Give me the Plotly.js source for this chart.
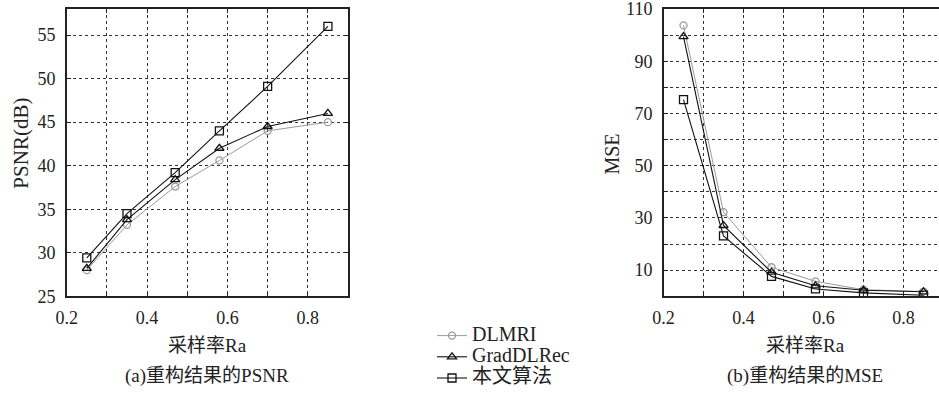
<!DOCTYPE html>
<html><head><meta charset="utf-8">
<script src="https://cdn.plot.ly/plotly-3.0.1.min.js"></script>
<style>html,body{margin:0;padding:0;overflow:hidden;background:#fff}</style>
</head><body><div id="chart"></div>
<script>
const rates = [0.25, 0.35, 0.47, 0.58, 0.70, 0.85];
const seriesNames = ['DLMRI', 'GradDLRec', '本文算法'];
const psnrDLMRI = [28.0, 33.2, 37.6, 40.6, 44.0, 45.0];
const psnrGrad  = [28.2, 33.8, 38.4, 42.0, 44.5, 46.0];
const psnrOurs  = [29.4, 34.5, 39.2, 44.0, 49.1, 56.0];
const mseDLMRI = [103.7, 32.2, 11.1, 5.7, 2.5, 1.8];
const mseGrad  = [99.4, 27.1, 9.2, 4.0, 2.3, 1.7];
const mseOurs  = [75.3, 23.1, 7.6, 2.8, 1.3, 0.4];
const xTickVals = [0.2, 0.3, 0.4, 0.5, 0.6, 0.7, 0.8, 0.9];
const xTickText = ['0.2', '', '0.4', '', '0.6', '', '0.8', ''];
const psnrTickVals = [25, 30, 35, 40, 45, 50, 55];
const mseTickVals = [0, 10, 20, 30, 40, 50, 60, 70, 80, 90, 100, 110];
const mseTickText = ['', '10', '', '30', '', '50', '', '70', '', '90', '', '110'];
const xTitle = '采样率Ra';
const captionA = '(a)重构结果的PSNR';
const captionB = '(b)重构结果的MSE';

const W = 945, H = 394;
const FONT = '"Liberation Serif", "Noto Sans CJK SC", serif';
const styles = [
  {color: '#9a9a9a', symbol: 'circle-open', size: 7, width: 1},
  {color: '#111', symbol: 'triangle-up-open', size: 8, width: 1.1},
  {color: '#111', symbol: 'square-open', size: 8, width: 1.1}
];
function tr(x, y, i, xa, ya, show) {
  const s = styles[i];
  return {x: x, y: y, xaxis: xa, yaxis: ya, type: 'scatter', mode: 'lines+markers',
    name: '<span style="font-size:20px">' + seriesNames[i] + '</span>', showlegend: show,
    line: {color: s.color, width: s.width},
    marker: {symbol: s.symbol, size: s.size, color: s.color, line: {color: s.color, width: 1.3}}};
}
const data = [
  tr(rates, psnrDLMRI, 0, 'x', 'y', true),
  tr(rates, psnrGrad, 1, 'x', 'y', true),
  tr(rates, psnrOurs, 2, 'x', 'y', true),
  tr(rates, mseDLMRI, 0, 'x2', 'y2', false),
  tr(rates, mseGrad, 1, 'x2', 'y2', false),
  tr(rates, mseOurs, 2, 'x2', 'y2', false)
];
const yTop = 1 - 9 / H, yBot = 1 - 297 / H;
function axisBase() {
  return {showline: true, linecolor: '#222', linewidth: 1.5, mirror: 'ticks',
    ticks: 'inside', ticklen: 4, tickcolor: '#222', tickwidth: 1,
    showgrid: true, gridcolor: '#333', griddash: 'dot', gridwidth: 1,
    zeroline: false, tickfont: {family: FONT, size: 18, color: '#222'}, fixedrange: true,
    ticklabeloverflow: 'allow'};
}
function ann(text, x, y, size, angle) {
  return {text: text, xref: 'paper', yref: 'paper', x: x / W, y: 1 - y / H,
    xanchor: 'center', yanchor: 'middle', textangle: angle || 0, showarrow: false,
    font: {family: FONT, size: size, color: '#222'}};
}
const layout = {
  width: W, height: H, margin: {l: 0, r: 0, t: 0, b: 0},
  paper_bgcolor: '#fff', plot_bgcolor: '#fff',
  font: {family: FONT, color: '#222'},
  xaxis: Object.assign(axisBase(), {domain: [66.7 / W, 348 / W], range: [0.2, 0.9],
    tickmode: 'array', tickvals: xTickVals, ticktext: xTickText, anchor: 'y', ticklabelstandoff: 5}),
  yaxis: Object.assign(axisBase(), {domain: [yBot, yTop], range: [25, 58],
    tickmode: 'array', tickvals: psnrTickVals, anchor: 'x', ticklabelstandoff: 6}),
  xaxis2: Object.assign(axisBase(), {domain: [663.5 / W, 943.5 / W], range: [0.2, 0.9],
    tickmode: 'array', tickvals: xTickVals, ticktext: xTickText, anchor: 'y2', ticklabelstandoff: 5}),
  yaxis2: Object.assign(axisBase(), {domain: [yBot, yTop], range: [0, 110],
    tickmode: 'array', tickvals: mseTickVals, ticktext: mseTickText, anchor: 'x2', ticklabelstandoff: 6}),
  showlegend: true,
  legend: {x: 432 / W, y: 1 - 321 / H, xanchor: 'left', yanchor: 'top', bgcolor: 'rgba(0,0,0,0)',
    font: {family: FONT, size: 14, color: '#222'}, tracegroupgap: 0, itemwidth: 30},
  annotations: [
    ann('PSNR(dB)', 21, 144, 21, -90),
    ann('MSE', 612, 155, 20, -90),
    ann(xTitle, 207, 346, 19),
    ann(captionA, 207, 377, 19),
    ann(xTitle, 805, 346, 19),
    ann(captionB, 805, 377, 19)
  ]
};
Plotly.newPlot('chart', data, layout, {displayModeBar: false, staticPlot: true});
</script></body></html>
